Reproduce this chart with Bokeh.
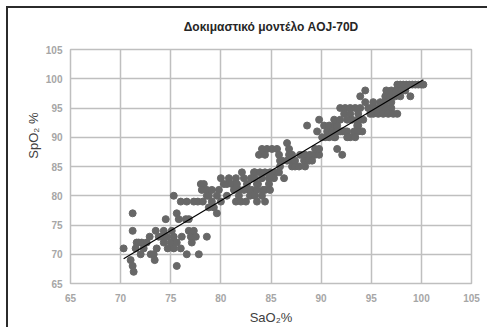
import numpy as np
from bokeh.plotting import figure
from bokeh.models import Title, FixedTicker, Range1d, LinearAxis
from bokeh.embed import file_html
from bokeh.resources import INLINE

title_text = "Δοκιμαστικό μοντέλο AOJ-70D"
x_title = "SaO₂%"
y_title = "SpO₂ %"
x_ticks = [65, 70, 75, 80, 85, 90, 95, 100, 105]
y_ticks = [65, 70, 75, 80, 85, 90, 95, 100, 105]

sao2 = [70.3, 71.0, 71.2, 71.3, 71.2, 71.2, 71.5, 71.6, 72.0, 72.1,
        72.3, 72.6, 72.9, 73.0, 73.3, 73.4, 73.6, 73.5, 73.8, 74.1,
        74.3, 74.3, 74.5, 74.6, 74.7, 75.0, 75.1, 75.3, 75.3, 75.3,
        75.6, 75.6, 75.6, 75.8, 76.0, 76.0, 76.1, 76.6, 76.6, 76.8,
        76.5, 76.8, 77.0, 77.1, 77.3, 77.5, 77.3, 77.8, 78.6, 71.8,
        77.7, 78.2, 78.6, 79.1, 79.3, 79.6, 78.8, 78.0, 78.3, 78.1,
        78.6, 78.8, 79.1, 79.8, 80.0, 80.3, 80.6, 80.8, 81.1, 81.5,
        81.6, 81.8, 82.1, 82.3, 82.6, 83.0, 83.3, 83.4, 83.6, 83.1,
        82.8, 82.3, 81.8, 81.3, 81.5, 82.0, 82.5, 82.9, 83.4, 83.6,
        84.4, 84.4, 84.8, 79.6, 80.0, 80.6, 83.7, 84.2, 84.9, 84.1,
        83.6, 83.4, 83.9, 84.4, 84.9, 85.4, 85.8, 85.3, 84.8, 84.1,
        83.8, 84.1, 84.6, 85.1, 85.6, 84.4, 85.8, 85.9, 86.6, 86.8,
        87.1, 87.0, 87.4, 87.9, 88.4, 88.9, 89.4, 89.8, 86.1, 87.1,
        87.4, 87.8, 88.3, 88.4, 88.8, 89.1, 86.6, 86.8, 89.4, 89.8,
        86.3, 85.9, 88.6, 89.8, 90.3, 90.8, 91.4, 89.6, 90.1, 90.6,
        91.1, 91.6, 90.4, 91.4, 91.6, 92.1, 90.8, 91.3, 91.9, 92.1,
        92.6, 92.9, 91.6, 91.3, 92.4, 92.6, 93.7, 94.1, 93.7, 93.3,
        93.4, 93.6, 94.2, 93.1, 93.9, 91.9, 92.4, 92.9, 93.4, 93.9,
        94.4, 92.3, 92.9, 93.7, 94.7, 94.9, 91.9, 92.6, 93.7, 94.4,
        93.9, 95.2, 95.9, 96.4, 96.9, 97.4, 97.9, 98.4, 98.9, 96.5,
        97.0, 97.5, 98.0, 97.6, 97.9, 98.2, 98.5, 98.8, 99.1, 99.4,
        99.7, 100.0, 100.2, 95.0, 95.5, 96.0, 96.5, 97.0, 95.2, 95.7,
        96.2, 96.7, 97.2, 96.4, 97.0, 97.6]

spo2 = [71, 69, 68, 67, 77, 74, 71, 72, 70, 72,
        71, 72, 73, 70, 70, 69, 71, 74, 73, 73,
        74, 72, 76, 73, 71, 72, 74, 73, 71, 80,
        72, 77, 68, 76, 71, 79, 73, 79, 70, 76,
        76, 74, 73, 72, 74, 73, 79, 70, 73, 72,
        79, 79, 80, 79, 78, 77, 78, 82, 82, 81,
        81, 80, 81, 81, 83, 82, 82, 83, 82, 83,
        82, 81, 84, 83, 82, 83, 84, 83, 82, 81,
        81, 81, 80, 81, 79, 79, 79, 80, 80, 79,
        79, 81, 82, 80, 79, 80, 82, 81, 81, 80,
        81, 84, 84, 84, 84, 84, 84, 83, 83, 83,
        87, 88, 88, 88, 88, 87, 87, 86, 89, 88,
        87, 86, 86, 87, 87, 87, 87, 87, 86, 85,
        85, 85, 86, 85, 86, 86, 86, 87, 88, 88,
        83, 85, 92, 93, 92, 92, 92, 91, 90, 91,
        91, 91, 90, 90, 88, 87, 90, 90, 91, 91,
        91, 90, 92, 93, 91, 90, 92, 91, 91, 91,
        90, 92, 93, 93, 93, 95, 95, 95, 95, 95,
        96, 94, 94, 94, 95, 94, 93, 93, 93, 98,
        97, 96, 96, 97, 97, 97, 97, 98, 97, 98,
        98, 98, 98, 99, 99, 99, 99, 99, 99, 99,
        99, 99, 99, 95, 95, 95, 95, 95, 94, 94,
        94, 94, 94, 96, 96, 94]

FONT = "Liberation Sans"
DARK = "#2b2b2b"

p = figure(frame_width=401, frame_height=234,
           min_border_left=70, min_border_right=16,
           min_border_top=49, min_border_bottom=41,
           x_range=Range1d(65, 105), y_range=Range1d(65, 105),
           output_backend="svg", toolbar_location=None)
p.styles = {
    "position": "fixed",
    "top": "0px",
    "left": "0px",
    "vertical-align": "top",
    "background-color": "white",
    "background-image": f"linear-gradient({DARK}, {DARK}), linear-gradient({DARK}, {DARK})",
    "background-size": "2px 100%, 100% 2px",
    "background-position": "6px 6px, 6px 6px",
    "background-repeat": "no-repeat",
}
p.background_fill_color = "white"
p.border_fill_color = None
p.outline_line_color = "#bfbfbf"
p.outline_line_width = 1.5

xax = p.below[0]
yax = p.left[0]
for ax, ticks in ((xax, x_ticks), (yax, y_ticks)):
    ax.ticker = FixedTicker(ticks=ticks)
    ax.axis_line_color = None
    ax.major_tick_line_color = None
    ax.minor_tick_line_color = None
    ax.major_label_text_font = FONT
    ax.major_label_text_font_size = "10px"
    ax.major_label_text_font_style = "bold"
    ax.major_label_text_color = "#a6a6a6"
    ax.major_tick_out = 0
    ax.major_tick_in = 0

xax.major_label_standoff = 10
yax.major_label_standoff = 8
xax.axis_label = x_title
xax.axis_label_text_font = FONT
xax.axis_label_text_font_size = "13px"
xax.axis_label_text_font_style = "normal"
xax.axis_label_text_color = "#404040"
xax.axis_label_standoff = 5

for g, ticks in ((p.xgrid[0], x_ticks), (p.ygrid[0], y_ticks)):
    g.ticker = FixedTicker(ticks=ticks)
    g.grid_line_color = "#bfbfbf"
    g.grid_line_width = 1.5

p.scatter(sao2, spo2, size=7, fill_color="#676767", line_color="#676767")

coef = np.polyfit(sao2, spo2, 1)
xs = np.array([min(sao2), max(sao2)])
p.line(xs, np.polyval(coef, xs), line_color="black", line_width=1.2)

top_ax = LinearAxis(axis_label=title_text, ticker=FixedTicker(ticks=[]),
                    axis_line_color=None, major_tick_line_color=None,
                    minor_tick_line_color=None, major_tick_out=0,
                    major_tick_in=0, major_label_standoff=0,
                    major_label_text_font_size="0px",
                    axis_label_standoff=16, axis_label_text_font=FONT,
                    axis_label_text_font_size="12px",
                    axis_label_text_font_style="bold",
                    axis_label_text_color="#262626")
p.add_layout(top_ax, "above")

p.add_layout(Title(text=y_title, align="right", offset=63, standoff=3,
                   text_font=FONT, text_font_size="13px",
                   text_font_style="normal", text_color="#404040"), "left")

open("out.html", "w").write(file_html(p, INLINE))
